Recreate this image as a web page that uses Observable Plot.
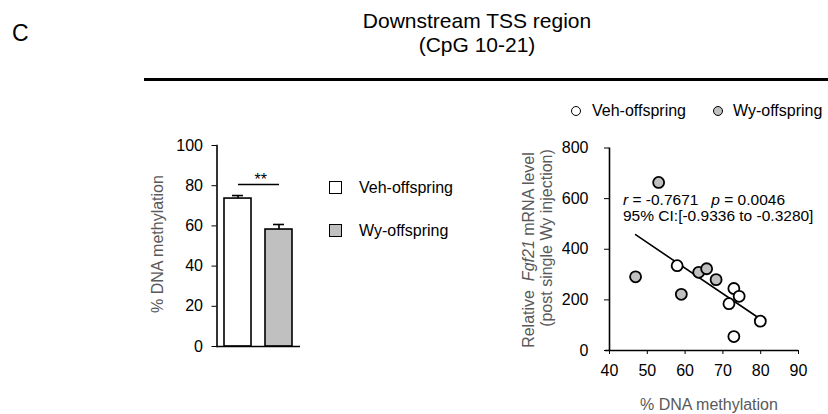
<!DOCTYPE html>
<html>
<head>
<meta charset="utf-8">
<script src="https://cdn.jsdelivr.net/npm/d3@7"></script>
<script src="https://cdn.jsdelivr.net/npm/@observablehq/plot@0.6"></script>
<style>
  html, body { margin: 0; padding: 0; background: #fff; }
  #fig { position: relative; width: 828px; height: 414px; overflow: hidden; background: #fff;
         font-family: "Liberation Sans", Arial, sans-serif; color: #000; }
  .abs { position: absolute; white-space: nowrap; }
  .rot { position: absolute; white-space: nowrap; transform: translate(-50%, -50%) rotate(-90deg);
         font-size: 16px; line-height: 16px; color: #595959; }
  .plot { position: absolute; }
</style>
</head>
<body>
<div id="fig"></div>
<script>
// ---------- data ----------
const panelLetter = "C";
const titleLines = ["Downstream TSS region", "(CpG 10-21)"];
const groups = ["Veh-offspring", "Wy-offspring"];
const groupFills = ["#ffffff", "#c0c0c0"];

// bar chart: % DNA methylation (mean ± SEM)
const methylMean = [73.6, 58.2];
const methylSem = [1.5, 2.5];
const sigY = 80.6;
const sigLabel = "**";
const barYTicks = [0, 20, 40, 60, 80, 100];
const barYLabel = "% DNA methylation";

// scatter: methylation vs Fgf21 mRNA
const vehX = [57.9, 72.9, 74.3, 71.6, 79.9, 72.9];
const vehY = [335, 245, 214, 185, 116, 55];
const wyX = [53.0, 46.9, 59.0, 63.6, 65.7, 68.2];
const wyY = [664, 291, 222, 309, 323, 280];
const scatXTicks = [40, 50, 60, 70, 80, 90];
const scatYTicks = [0, 200, 400, 600, 800];
const scatXLabel = "% DNA methylation";
const statLine1 = '<i>r</i> = -0.7671&nbsp;&nbsp; <i>p</i> = 0.0046';
const statLine2 = '95% CI:[-0.9336 to -0.3280]';

// ---------- build tables ----------
const bars = groups.map((g, i) => ({group: g, mean: methylMean[i], sem: methylSem[i]}));
const points = [
  ...vehX.map((x, i) => ({group: groups[0], x, y: vehY[i]})),
  ...wyX.map((x, i) => ({group: groups[1], x, y: wyY[i]}))
];
const colorScale = {domain: groups, range: groupFills};
const font = '"Liberation Sans", Arial, sans-serif';

const fig = document.getElementById("fig");
function addDiv(cls, html, css) {
  const d = document.createElement("div");
  d.className = cls;
  d.innerHTML = html;
  Object.assign(d.style, css);
  fig.appendChild(d);
  return d;
}

// ---------- header ----------
addDiv("abs", panelLetter, {left: "12px", top: "19px", fontSize: "23px", lineHeight: "28px"});
addDiv("abs", titleLines[0], {left: "477px", top: "9px", fontSize: "21px", lineHeight: "24px", transform: "translateX(-50%)"});
addDiv("abs", titleLines[1], {left: "477px", top: "33px", fontSize: "21px", lineHeight: "24px", transform: "translateX(-50%)"});
addDiv("abs", "", {left: "144px", top: "78px", width: "684px", height: "3px", background: "#000"});

// ---------- bar chart ----------
const barPlot = Plot.plot({
  width: 180, height: 230,
  marginLeft: 86.5, marginRight: 10, marginTop: 15, marginBottom: 14,
  style: {fontFamily: font, fontSize: "16px", background: "transparent", overflow: "visible"},
  x: {domain: groups, axis: null, paddingInner: 0.337, paddingOuter: 0.1745},
  y: {domain: [0, 100], label: null},
  color: colorScale,
  marks: [
    Plot.barY(bars, {x: "group", y: "mean", fill: "group", stroke: "#000", strokeWidth: 1.6}),
    Plot.ruleX(bars, {x: "group", y1: "mean", y2: d => d.mean + d.sem, stroke: "#000", strokeWidth: 1.6}),
    Plot.tickY(bars, {x: "group", y: d => d.mean + d.sem, insetLeft: 8, insetRight: 8, stroke: "#000", strokeWidth: 1.6}),
    Plot.link([{a: groups[0], b: groups[1], y: sigY}], {x1: "a", x2: "b", y1: "y", y2: "y", stroke: "#000", strokeWidth: 1.6}),
    Plot.text([{y: sigY}], {y: "y", text: () => sigLabel, dy: -5, dx: 2, fontSize: 16}),
    Plot.axisY({ticks: barYTicks, tickSize: 5, tickPadding: 9, label: null, stroke: "#000"}),
    Plot.frame({anchor: "left", stroke: "#000", strokeWidth: 1.6}),
    Plot.ruleY([0], {stroke: "#000", strokeWidth: 1.6})
  ]
});
barPlot.classList.add("plot");
Object.assign(barPlot.style, {left: "130px", top: "130px"});
fig.appendChild(barPlot);

addDiv("rot", barYLabel, {left: "158px", top: "244px"});

// bar legend
groups.forEach((g, i) => {
  const top = [181, 224][i];
  addDiv("abs", "", {left: "329px", top: top + "px", width: "11px", height: "11px",
    border: "1.6px solid #000", background: groupFills[i]});
  addDiv("abs", g, {left: "359px", top: (top - 3) + "px", fontSize: "16px", lineHeight: "20px"});
});

// ---------- scatter ----------
const scatPlot = Plot.plot({
  width: 330, height: 284,
  marginLeft: 129, marginRight: 12, marginTop: 17.5, marginBottom: 64,
  style: {fontFamily: font, fontSize: "16px", background: "transparent", overflow: "visible"},
  x: {domain: [40, 90], label: null},
  y: {domain: [0, 800], label: null},
  color: colorScale,
  marks: [
    Plot.axisX({ticks: scatXTicks, tickSize: 4, tickPadding: 10, label: null, stroke: "#000"}),
    Plot.axisY({ticks: scatYTicks, tickSize: 5, tickPadding: 16, label: null, stroke: "#000"}),
    Plot.ruleX([40], {stroke: "#000", strokeWidth: 1.6}),
    Plot.ruleY([0], {stroke: "#000", strokeWidth: 1.6, insetLeft: -4}),
    Plot.linearRegressionY(points, {x: "x", y: "y", ci: 0, stroke: "#000", strokeWidth: 1.6}),
    Plot.dot(points, {x: "x", y: "y", r: 5.5, fill: "group", stroke: "#000", strokeWidth: 1.8})
  ]
});
scatPlot.classList.add("plot");
Object.assign(scatPlot.style, {left: "480px", top: "130px"});
fig.appendChild(scatPlot);

// scatter axis labels
addDiv("rot", 'Relative&nbsp; <i>Fgf21</i> mRNA level', {left: "529px", top: "250px"});
addDiv("rot", '(post single Wy injection)', {left: "547px", top: "238px"});
addDiv("abs", scatXLabel, {left: "709px", top: "396px", fontSize: "16px", lineHeight: "18px",
  transform: "translateX(-50%)", color: "#595959"});

// stats annotation
addDiv("abs", statLine1, {left: "623px", top: "191px", fontSize: "15.5px", lineHeight: "18px"});
addDiv("abs", statLine2, {left: "623px", top: "207px", fontSize: "15.5px", lineHeight: "18px"});

// scatter legend
groups.forEach((g, i) => {
  const cx = [576.5, 718.5][i];
  const tx = [592, 733][i];
  addDiv("abs", "", {left: (cx - 5.5) + "px", top: "105.5px", width: "8px", height: "8px",
    border: "1.6px solid #000", borderRadius: "50%", background: groupFills[i]});
  addDiv("abs", g, {left: tx + "px", top: "101px", fontSize: "16px", lineHeight: "20px"});
});
</script>
</body>
</html>
